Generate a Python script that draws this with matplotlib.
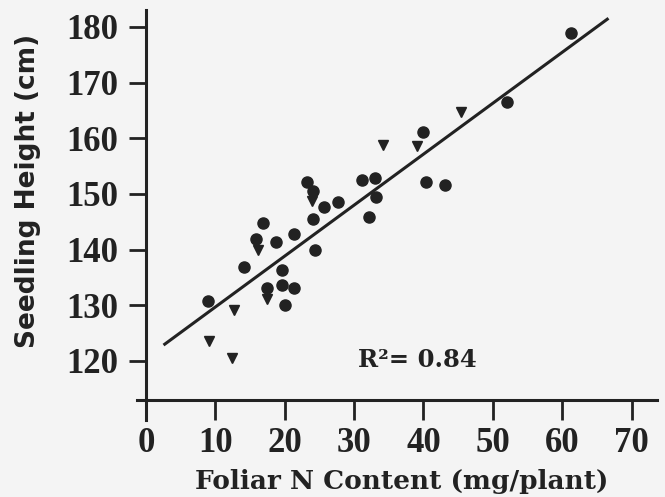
import matplotlib.pyplot as plt
import numpy as np

# circles (filled)
circ_x = [23.2, 24.1, 31.1, 33.0, 33.2, 32.2, 25.6, 27.7, 24.1, 16.8, 15.9,
          18.8, 21.3, 24.4, 14.1, 19.6, 17.4, 19.6, 21.3, 20.0, 9.0,
          61.3, 52.0, 40.0, 40.3, 43.1]
circ_y = [152.1, 150.6, 152.5, 152.8, 149.5, 145.9, 147.6, 148.5, 145.5, 144.7, 142.0,
          141.4, 142.8, 139.9, 136.8, 136.3, 133.2, 133.7, 133.1, 130.0, 130.8,
          179.0, 166.5, 161.1, 152.1, 151.7]

# triangles (pointing down)
tri_x = [45.4, 39.1, 34.1, 23.9, 16.2, 17.4, 12.7, 9.1, 12.4]
tri_y = [164.8, 158.7, 158.8, 148.8, 139.9, 131.1, 129.2, 123.6, 120.5]

# regression line
fit_slope = 0.915
fit_icept = 120.55
fit_range = [2.7, 66.5]

x_ticks = [0, 10, 20, 30, 40, 50, 60, 70]
y_ticks = [120, 130, 140, 150, 160, 170, 180]

ink = '#222222'
fig = plt.figure(figsize=(6.65, 4.97), dpi=100, facecolor='#f4f4f4')
ax = fig.add_axes([137/665, 77/497, 520/665, 410/497])
ax.set_facecolor('none')

ax.set_xlim(-1.3, 73.67)
ax.set_ylim(109.4, 183.05)

ax.plot(circ_x, circ_y, 'o', color=ink, markersize=8, zorder=3)
ax.plot(tri_x, tri_y, 'v', color=ink, markersize=7, zorder=3)

lx = np.array(fit_range)
ax.plot(lx, fit_slope * lx + fit_icept, color=ink, linewidth=2.2, zorder=2)

ax.text(30.6, 118.9, 'R²= 0.84', fontsize=17.5, fontweight='bold',
        family='DejaVu Serif', color=ink, ha='left', va='baseline')

for s in ['top', 'right']:
    ax.spines[s].set_visible(False)
ax.spines['left'].set_position(('data', 0))
ax.spines['bottom'].set_position(('data', 113))
for s in ['left', 'bottom']:
    ax.spines[s].set_linewidth(2.2)
    ax.spines[s].set_color(ink)

ax.set_xticks(x_ticks)
ax.set_yticks(y_ticks)
ax.tick_params(axis='x', direction='out', length=14.4, width=2, pad=5, color=ink)
ax.tick_params(axis='y', direction='out', length=12, width=2, pad=8, color=ink)
for lab in ax.get_xticklabels() + ax.get_yticklabels():
    lab.set_family('Liberation Serif')
    lab.set_fontweight('bold')
    lab.set_fontsize(25)
    lab.set_color(ink)

fig.text(402/665, 1 - 481/497, 'Foliar N Content (mg/plant)', fontsize=19,
         family='DejaVu Serif', fontweight='bold', color=ink, ha='center', va='center')
fig.text(28/665, 1 - 191/497, 'Seedling Height (cm)', fontsize=19, rotation=90,
         family='DejaVu Sans', fontweight='bold', color=ink, ha='center', va='center')

fig.savefig('out.png', dpi=100, facecolor=fig.get_facecolor())
